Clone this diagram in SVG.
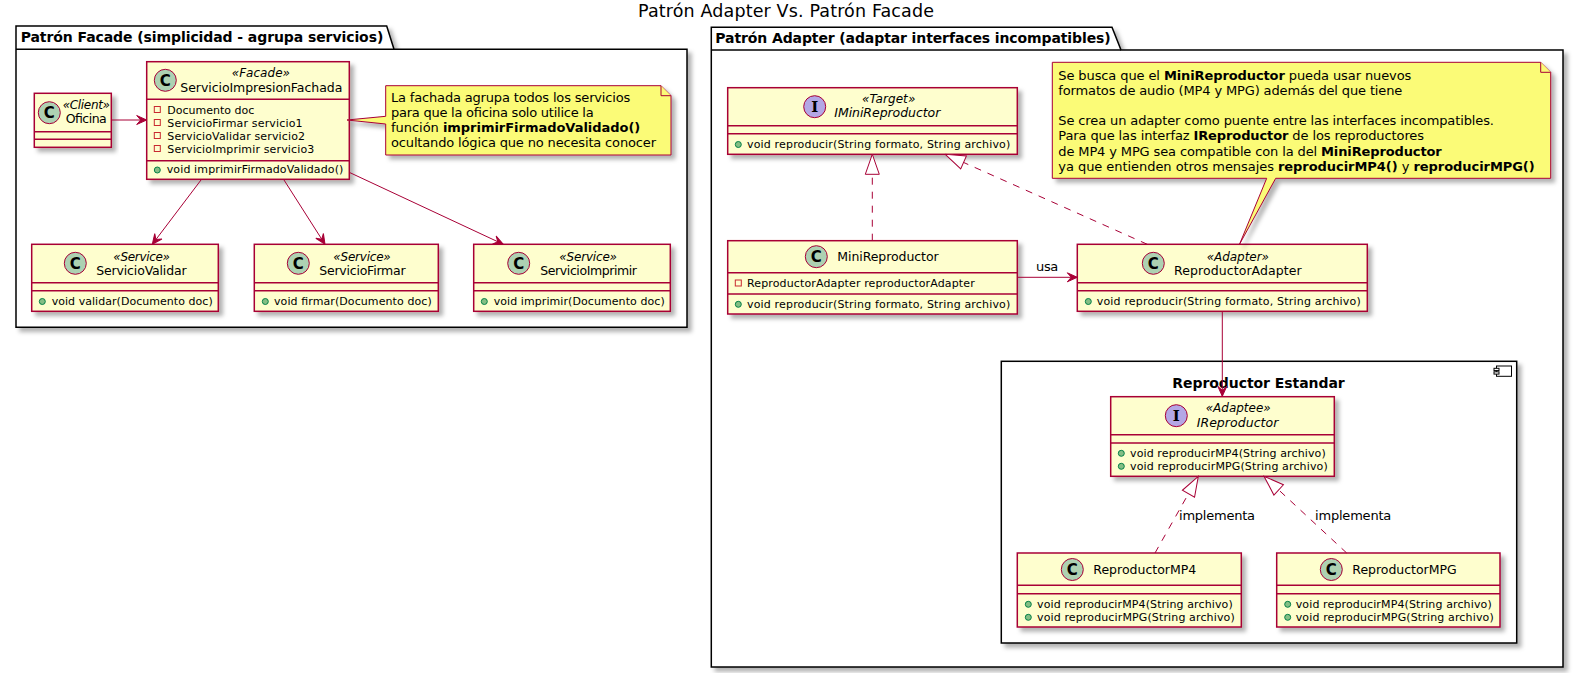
<svg xmlns="http://www.w3.org/2000/svg" width="1582" height="673" viewBox="0 0 1582 673">
<style>
text{font-family:"DejaVu Sans","Noto Sans",sans-serif;fill:#000}
.box{fill:#FEFECE;stroke:#A80036;stroke-width:1.5}
.dv{stroke:#A80036;stroke-width:1.5;fill:none}
.cn{font-size:12.5px}
.st{font-size:12px;font-style:italic}
.it{font-style:italic}
.mem{font-size:11px}
.note{fill:#FBFB77;stroke:#A80036;stroke-width:1}
.nt{font-size:13px}
.b{font-weight:bold}
.pkg{fill:#fff;stroke:#000;stroke-width:1.5}
.pt{font-size:14px;font-weight:bold}
.cc{fill:#ADD1B2;stroke:#A80036;stroke-width:1}
.ci{fill:#B4A7E5;stroke:#A80036;stroke-width:1}
.gl{font-size:15px;font-weight:bold}
.gi{font-family:"DejaVu Serif",serif;font-size:15px;font-weight:bold}
.priv{fill:none;stroke:#C82930;stroke-width:1}
.pub{fill:#84BE84;stroke:#038048;stroke-width:1}
.conn{stroke:#A80036;stroke-width:1;fill:none}
.dash{stroke-dasharray:7,7}
.lbl{font-size:13px}
</style>
<defs>
<filter id="sh" x="-5%" y="-5%" width="115%" height="125%">
<feDropShadow dx="4" dy="4" stdDeviation="2" flood-color="#000" flood-opacity="0.3"/>
</filter>
<marker id="arr" viewBox="-11 -6 12 12" markerWidth="12" markerHeight="12" refX="0" refY="0" orient="auto" markerUnits="userSpaceOnUse">
<path d="M0,0 L-10,-4.5 L-6,0 L-10,4.5 Z" fill="#A80036" stroke="#A80036" stroke-width="1"/>
</marker>
<marker id="tri" viewBox="-21 -8 22 16" markerWidth="22" markerHeight="16" refX="0" refY="0" orient="auto" markerUnits="userSpaceOnUse">
<path d="M0,0 L-20,-7 L-20,7 Z" fill="#fff" stroke="#A80036" stroke-width="1" stroke-dasharray="none"/>
</marker>
</defs>
<rect width="1582" height="673" fill="#fff"/>

<text x="638" y="16.7" font-size="17.5" textLength="296">Patrón Adapter Vs. Patrón Facade</text>

<g id="pkg-facade">
<path class="pkg" filter="url(#sh)" d="M16,26 L386.7,26 L394,49.3 L687,49.3 L687,327.3 L16,327.3 Z"/>
<line x1="16" y1="49.3" x2="394" y2="49.3" stroke="#000" stroke-width="1.5"/>
<text class="pt" x="20.7" y="42" textLength="362.6">Patrón Facade (simplicidad - agrupa servicios)</text>
</g>

<g id="pkg-adapter">
<path class="pkg" filter="url(#sh)" d="M711.3,27.3 L1112,27.3 L1121,50 L1563,50 L1563,667 L711.3,667 Z"/>
<line x1="711.3" y1="50" x2="1121" y2="50" stroke="#000" stroke-width="1.5"/>
<text class="pt" x="715.3" y="43.3" textLength="395.4">Patrón Adapter (adaptar interfaces incompatibles)</text>
</g>

<g id="comp-estandar">
<rect class="pkg" filter="url(#sh)" x="1001.3" y="361.3" width="515.4" height="281.7"/>
<rect x="1496.5" y="366" width="15" height="10.3" fill="#fff" stroke="#000" stroke-width="1"/>
<rect x="1494" y="368.3" width="5" height="2.3" fill="#fff" stroke="#000" stroke-width="1"/>
<rect x="1494" y="371.8" width="5" height="2.3" fill="#fff" stroke="#000" stroke-width="1"/>
<text class="pt" x="1172.3" y="387.7" textLength="172.4">Reproductor Estandar</text>
</g>

<g id="Oficina">
<rect class="box" filter="url(#sh)" x="34.3" y="93.3" width="77" height="54"/>
<line class="dv" x1="34.3" y1="131.7" x2="111.3" y2="131.7"/>
<line class="dv" x1="34.3" y1="139.3" x2="111.3" y2="139.3"/>
<circle class="cc" cx="49.3" cy="112.7" r="11"/>
<text class="gl" x="49.3" y="118.2" text-anchor="middle">C</text>
<text class="st" x="62.7" y="109.3" textLength="47.3">«Client»</text>
<text class="cn" x="65.7" y="123.3" textLength="41">Oficina</text>
</g>

<g id="ServicioImpresionFachada">
<rect class="box" filter="url(#sh)" x="146.7" y="61.7" width="202.6" height="117.6"/>
<line class="dv" x1="146.7" y1="99.3" x2="349.3" y2="99.3"/>
<line class="dv" x1="146.7" y1="160.7" x2="349.3" y2="160.7"/>
<circle class="cc" cx="165.3" cy="80.3" r="11"/>
<text class="gl" x="165.3" y="85.8" text-anchor="middle">C</text>
<text class="st" x="231.7" y="77.3" textLength="58.3">«Facade»</text>
<text class="cn" x="180.3" y="91.7" textLength="162">ServicioImpresionFachada</text>
<rect class="priv" x="154.3" y="106.5" width="6" height="6"/>
<text class="mem" x="167.3" y="113.5" textLength="87">Documento doc</text>
<rect class="priv" x="154.3" y="119.5" width="6" height="6"/>
<text class="mem" x="167.3" y="126.5" textLength="135.3">ServicioFirmar servicio1</text>
<rect class="priv" x="154.3" y="132.5" width="6" height="6"/>
<text class="mem" x="167.3" y="139.5" textLength="137.7">ServicioValidar servicio2</text>
<rect class="priv" x="154.3" y="145.5" width="6" height="6"/>
<text class="mem" x="167.3" y="152.5" textLength="147">ServicioImprimir servicio3</text>
<circle class="pub" cx="157.3" cy="170" r="3"/>
<text class="mem" x="166.7" y="173.3" textLength="176.7">void imprimirFirmadoValidado()</text>
</g>

<g id="note-facade">
<path class="note" filter="url(#sh)" d="M385.7,85.7 L661,85.7 L671,95.7 L671,155 L385.7,155 L385.7,124 L347,120 L385.7,116.3 Z"/>
<path class="note" d="M661,85.7 L661,95.7 L671,95.7"/>
<text class="nt" x="391" y="102.3" textLength="239.3">La fachada agrupa todos los servicios</text>
<text class="nt" x="391" y="117.3" textLength="202.7">para que la oficina solo utilice la</text>
<text class="nt" x="391" y="132.3" textLength="249.3">función <tspan class="b">imprimirFirmadoValidado()</tspan></text>
<text class="nt" x="391" y="147.3" textLength="265">ocultando lógica que no necesita conocer</text>
</g>

<g id="ServicioValidar">
<rect class="box" filter="url(#sh)" x="31.7" y="244.3" width="186.6" height="67"/>
<line class="dv" x1="31.7" y1="282.7" x2="218.3" y2="282.7"/>
<line class="dv" x1="31.7" y1="290.7" x2="218.3" y2="290.7"/>
<circle class="cc" cx="75.3" cy="263.3" r="11"/>
<text class="gl" x="75.3" y="268.8" text-anchor="middle">C</text>
<text class="st" x="113.3" y="260.7" textLength="56.7">«Service»</text>
<text class="cn" x="96.3" y="275" textLength="90.3">ServicioValidar</text>
<circle class="pub" cx="42.3" cy="301.5" r="3"/>
<text class="mem" x="51.7" y="305" textLength="161">void validar(Documento doc)</text>
</g>

<g id="ServicioFirmar">
<rect class="box" filter="url(#sh)" x="254.3" y="244.3" width="184" height="67"/>
<line class="dv" x1="254.3" y1="282.7" x2="438.3" y2="282.7"/>
<line class="dv" x1="254.3" y1="290.7" x2="438.3" y2="290.7"/>
<circle class="cc" cx="298.3" cy="263.3" r="11"/>
<text class="gl" x="298.3" y="268.8" text-anchor="middle">C</text>
<text class="st" x="333.3" y="260.7" textLength="57.4">«Service»</text>
<text class="cn" x="319.3" y="275" textLength="86.3">ServicioFirmar</text>
<circle class="pub" cx="265.3" cy="301.5" r="3"/>
<text class="mem" x="274" y="305" textLength="157.7">void firmar(Documento doc)</text>
</g>

<g id="ServicioImprimir">
<rect class="box" filter="url(#sh)" x="473.7" y="244.3" width="196.6" height="67"/>
<line class="dv" x1="473.7" y1="282.7" x2="670.3" y2="282.7"/>
<line class="dv" x1="473.7" y1="290.7" x2="670.3" y2="290.7"/>
<circle class="cc" cx="518.7" cy="263.3" r="11"/>
<text class="gl" x="518.7" y="268.8" text-anchor="middle">C</text>
<text class="st" x="559.3" y="260.7" textLength="57.7">«Service»</text>
<text class="cn" x="540.3" y="275" textLength="96.7">ServicioImprimir</text>
<circle class="pub" cx="484.3" cy="301.5" r="3"/>
<text class="mem" x="493.7" y="305" textLength="171">void imprimir(Documento doc)</text>
</g>

<g id="IMiniReproductor">
<rect class="box" filter="url(#sh)" x="727.7" y="87.7" width="289.6" height="66.6"/>
<line class="dv" x1="727.7" y1="125.7" x2="1017.3" y2="125.7"/>
<line class="dv" x1="727.7" y1="133.7" x2="1017.3" y2="133.7"/>
<circle class="ci" cx="814.7" cy="106.7" r="11"/>
<text class="gi" x="814.7" y="112.2" text-anchor="middle">I</text>
<text class="st" x="862" y="103.3" textLength="53.3">«Target»</text>
<text class="cn it" x="834.3" y="117.3" textLength="106">IMiniReproductor</text>
<circle class="pub" cx="738.3" cy="144.5" r="3"/>
<text class="mem" x="747" y="148" textLength="263.3">void reproducir(String formato, String archivo)</text>
</g>

<g id="MiniReproductor">
<rect class="box" filter="url(#sh)" x="727.7" y="240.7" width="289.6" height="73.3"/>
<line class="dv" x1="727.7" y1="272.7" x2="1017.3" y2="272.7"/>
<line class="dv" x1="727.7" y1="294" x2="1017.3" y2="294"/>
<circle class="cc" cx="816.3" cy="256.7" r="11"/>
<text class="gl" x="816.3" y="262.2" text-anchor="middle">C</text>
<text class="cn" x="837.3" y="260.7" textLength="101.3">MiniReproductor</text>
<rect class="priv" x="735.3" y="280" width="6" height="6"/>
<text class="mem" x="747" y="286.7" textLength="227.7">ReproductorAdapter reproductorAdapter</text>
<circle class="pub" cx="738.3" cy="304.3" r="3"/>
<text class="mem" x="747" y="307.7" textLength="263.3">void reproducir(String formato, String archivo)</text>
</g>

<g id="ReproductorAdapter">
<rect class="box" filter="url(#sh)" x="1077.3" y="244.3" width="290" height="67"/>
<line class="dv" x1="1077.3" y1="282.7" x2="1367.3" y2="282.7"/>
<line class="dv" x1="1077.3" y1="290.7" x2="1367.3" y2="290.7"/>
<circle class="cc" cx="1153.3" cy="263.3" r="11"/>
<text class="gl" x="1153.3" y="268.8" text-anchor="middle">C</text>
<text class="st" x="1206.7" y="260.7" textLength="62.3">«Adapter»</text>
<text class="cn" x="1174" y="275" textLength="127.7">ReproductorAdapter</text>
<circle class="pub" cx="1088.3" cy="301.5" r="3"/>
<text class="mem" x="1096.7" y="305" textLength="264">void reproducir(String formato, String archivo)</text>
</g>

<g id="note-adapter">
<path class="note" filter="url(#sh)" d="M1052.3,62.3 L1540.7,62.3 L1550.7,72.3 L1550.7,178.3 L1275.7,178.3 L1239.5,244.3 L1266.7,178.3 L1052.3,178.3 Z"/>
<path class="note" d="M1540.7,62.3 L1540.7,72.3 L1550.7,72.3"/>
<text class="nt" x="1058.3" y="80" textLength="353">Se busca que el <tspan class="b">MiniReproductor</tspan> pueda usar nuevos</text>
<text class="nt" x="1058.3" y="95.1" textLength="344">formatos de audio (MP4 y MPG) además del que tiene</text>
<text class="nt" x="1058.3" y="125.1" textLength="435.7">Se crea un adapter como puente entre las interfaces incompatibles.</text>
<text class="nt" x="1058.3" y="140.4" textLength="365.7">Para que las interfaz <tspan class="b">IReproductor</tspan> de los reproductores</text>
<text class="nt" x="1058.3" y="155.6" textLength="383.4">de MP4 y MPG sea compatible con la del <tspan class="b">MiniReproductor</tspan></text>
<text class="nt" x="1058.3" y="170.7" textLength="476.4">ya que entienden otros mensajes <tspan class="b">reproducirMP4()</tspan> y <tspan class="b">reproducirMPG()</tspan></text>
</g>

<g id="IReproductor">
<rect class="box" filter="url(#sh)" x="1110.7" y="396.7" width="223.6" height="79.6"/>
<line class="dv" x1="1110.7" y1="434.7" x2="1334.3" y2="434.7"/>
<line class="dv" x1="1110.7" y1="443" x2="1334.3" y2="443"/>
<circle class="ci" cx="1176.3" cy="415.7" r="11"/>
<text class="gi" x="1176.3" y="421.2" text-anchor="middle">I</text>
<text class="st" x="1205.7" y="412.3" textLength="65">«Adaptee»</text>
<text class="cn it" x="1196.7" y="427" textLength="81.6">IReproductor</text>
<circle class="pub" cx="1121.3" cy="453.3" r="3"/>
<text class="mem" x="1130" y="457" textLength="195.7">void reproducirMP4(String archivo)</text>
<circle class="pub" cx="1121.3" cy="466.3" r="3"/>
<text class="mem" x="1130" y="470" textLength="197.7">void reproducirMPG(String archivo)</text>
</g>

<g id="ReproductorMP4">
<rect class="box" filter="url(#sh)" x="1017.3" y="553" width="224" height="74"/>
<line class="dv" x1="1017.3" y1="585.3" x2="1241.3" y2="585.3"/>
<line class="dv" x1="1017.3" y1="593.7" x2="1241.3" y2="593.7"/>
<circle class="cc" cx="1072.3" cy="569.5" r="11"/>
<text class="gl" x="1072.3" y="575" text-anchor="middle">C</text>
<text class="cn" x="1093.3" y="573.7" textLength="103">ReproductorMP4</text>
<circle class="pub" cx="1028.3" cy="604.3" r="3"/>
<text class="mem" x="1037" y="607.7" textLength="195.7">void reproducirMP4(String archivo)</text>
<circle class="pub" cx="1028.3" cy="617.3" r="3"/>
<text class="mem" x="1037" y="620.7" textLength="197.7">void reproducirMPG(String archivo)</text>
</g>

<g id="ReproductorMPG">
<rect class="box" filter="url(#sh)" x="1276.7" y="553" width="223.3" height="74"/>
<line class="dv" x1="1276.7" y1="585.3" x2="1500" y2="585.3"/>
<line class="dv" x1="1276.7" y1="593.7" x2="1500" y2="593.7"/>
<circle class="cc" cx="1331.3" cy="569.5" r="11"/>
<text class="gl" x="1331.3" y="575" text-anchor="middle">C</text>
<text class="cn" x="1352.3" y="573.7" textLength="104.4">ReproductorMPG</text>
<circle class="pub" cx="1287.7" cy="604.3" r="3"/>
<text class="mem" x="1295.7" y="607.7" textLength="196">void reproducirMP4(String archivo)</text>
<circle class="pub" cx="1287.7" cy="617.3" r="3"/>
<text class="mem" x="1295.7" y="620.7" textLength="198">void reproducirMPG(String archivo)</text>
</g>

<g id="connectors">
<path class="conn" d="M111.3,120 L146.7,120" marker-end="url(#arr)"/>
<path class="conn" d="M201,180 L152.3,244.3" marker-end="url(#arr)"/>
<path class="conn" d="M284,180 L325,244.3" marker-end="url(#arr)"/>
<path class="conn" d="M350,172.7 L503.3,244.3" marker-end="url(#arr)"/>
<path class="conn dash" d="M872.3,240.7 L872.3,154.3" marker-end="url(#tri)"/>
<path class="conn dash" d="M1147.3,244.3 L945.3,154.3" marker-end="url(#tri)"/>
<path class="conn" d="M1017.3,277.3 L1077.3,277.3" marker-end="url(#arr)"/>
<text class="lbl" x="1036" y="270.7" textLength="22.3">usa</text>
<path class="conn" d="M1222.3,311.3 L1222.3,396.3" marker-end="url(#arr)"/>
<path class="conn dash" d="M1155,553 L1198.3,476.3" marker-end="url(#tri)"/>
<text class="lbl" x="1179" y="519.7" textLength="76">implementa</text>
<path class="conn dash" d="M1346.7,553 L1264,476.3" marker-end="url(#tri)"/>
<text class="lbl" x="1315" y="519.7" textLength="76.3">implementa</text>
</g>
</svg>
